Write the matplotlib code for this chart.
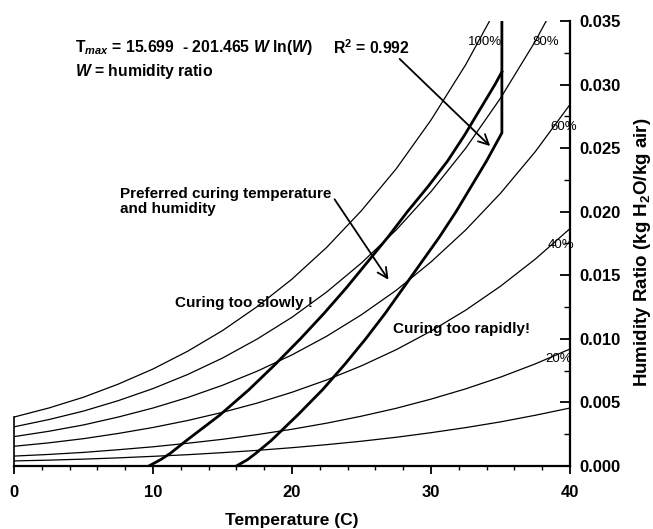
import numpy as np
import matplotlib
matplotlib.use("Agg")
import matplotlib.pyplot as plt
from matplotlib.ticker import MultipleLocator, FormatStrFormatter

plt.rcParams['font.family'] = ['Liberation Sans', 'DejaVu Sans']
plt.rcParams['font.weight'] = 'bold'
plt.rcParams['mathtext.fontset'] = 'custom'
plt.rcParams['mathtext.rm'] = 'Liberation Sans:bold'
plt.rcParams['mathtext.bf'] = 'Liberation Sans:bold'
plt.rcParams['mathtext.it'] = 'Liberation Sans:italic:bold'

# relative humidity curves, humidity ratio (kg/kg) vs dry bulb temperature (C)
temps = [0, 2.5, 5, 7.5, 10, 12.5, 15, 17.5, 20, 22.5, 25, 27.5, 30, 32.5, 35, 37.5, 40]
rh_100 = [0.00385, 0.00456, 0.00541, 0.00644, 0.00763, 0.00903, 0.01065, 0.01254, 0.01470,
          0.01720, 0.02009, 0.02338, 0.02721, 0.03157, 0.03658, 0.04232, 0.04887]
rh_80 = [0.00308, 0.00365, 0.00432, 0.00514, 0.00609, 0.00720, 0.00849, 0.00999, 0.01170,
         0.01369, 0.01597, 0.01857, 0.02158, 0.02500, 0.02893, 0.03340, 0.03849]
rh_60 = [0.00231, 0.00273, 0.00323, 0.00385, 0.00456, 0.00539, 0.00635, 0.00746, 0.00874,
         0.01021, 0.01190, 0.01382, 0.01605, 0.01857, 0.02145, 0.02472, 0.02843]
rh_40 = [0.00155, 0.00182, 0.00215, 0.00256, 0.00303, 0.00358, 0.00422, 0.00495, 0.00580,
         0.00677, 0.00788, 0.00915, 0.01061, 0.01226, 0.01414, 0.01627, 0.01867]
rh_20 = [0.00078, 0.00091, 0.00107, 0.00128, 0.00151, 0.00179, 0.00210, 0.00247, 0.00289,
         0.00337, 0.00392, 0.00454, 0.00526, 0.00607, 0.00699, 0.00803, 0.00920]
rh_10 = [0.00040, 0.00046, 0.00054, 0.00064, 0.00076, 0.00089, 0.00105, 0.00123, 0.00144,
         0.00168, 0.00195, 0.00226, 0.00262, 0.00302, 0.00347, 0.00399, 0.00456]
rh_curves = [rh_100, rh_80, rh_60, rh_40, rh_20, rh_10]

# lower (slow curing) limit
low_w = [0, 0.0005, 0.001, 0.002, 0.004, 0.006, 0.008, 0.010, 0.012, 0.014, 0.016,
         0.018, 0.020, 0.022, 0.024, 0.026, 0.028, 0.030, 0.031]
low_t = [9.7, 10.55, 11.25, 12.4, 14.8, 16.9, 18.8, 20.6, 22.3, 23.9, 25.4,
         26.9, 28.3, 29.8, 31.2, 32.4, 33.5, 34.6, 35.1]

# upper limit, Tmax fit then 35 C cap
high_w = [0, 0.0005, 0.001, 0.002, 0.004, 0.006, 0.008, 0.010, 0.012, 0.014, 0.016,
          0.018, 0.020, 0.022, 0.024, 0.0262, 0.035]
high_t = [16.0, 16.8, 17.4, 18.5, 20.4, 22.2, 23.8, 25.3, 26.7, 28.0, 29.3,
          30.6, 31.8, 32.9, 34.0, 35.1, 35.1]

fig = plt.figure(figsize=(6.53, 5.29), dpi=100)
ax = fig.add_axes([14/653, 1 - 466/529, 556/653, 445/529])

for w in rh_curves:
    ax.plot(temps, w, color='black', lw=0.9)
ax.plot(low_t, low_w, color='black', lw=2.0)
ax.plot(high_t, high_w, color='black', lw=2.0)

ax.set_xlim(0, 40)
ax.set_ylim(0, 0.035)

ax.spines['top'].set_visible(False)
ax.spines['left'].set_bounds(0, rh_100[0])
ax.spines['left'].set_linewidth(1.2)
ax.spines['right'].set_linewidth(1.6)
ax.spines['bottom'].set_linewidth(1.6)

ax.yaxis.tick_right()
ax.yaxis.set_label_position('right')
ax.xaxis.set_major_locator(MultipleLocator(10))
ax.xaxis.set_minor_locator(MultipleLocator(2))
ax.yaxis.set_major_locator(MultipleLocator(0.005))
ax.yaxis.set_minor_locator(MultipleLocator(0.0025))
ax.yaxis.set_major_formatter(FormatStrFormatter('%.3f'))
ax.tick_params(axis='x', which='major', direction='out', length=6, width=1.3, pad=8, labelsize=12)
ax.tick_params(axis='x', which='minor', direction='out', length=3, width=1.0)
ax.tick_params(axis='y', which='major', direction='in', length=7, width=1.3, pad=7, labelsize=12)
ax.tick_params(axis='y', which='minor', direction='in', length=4, width=1.0)

ax.set_xlabel('Temperature (C)', fontsize=12.5, fontweight='bold', labelpad=9)
ax.set_ylabel(r'Humidity Ratio (kg H$_2$O/kg air)', fontsize=13.5, fontweight='bold')
ax.yaxis.set_label_coords(1.112, 0.48)

# RH labels
rh_labels = ['100%', '80%', '60%', '40%', '20%']
rh_label_pos = [(32.66, 0.03335), (37.3, 0.03335), (38.56, 0.02666), (38.42, 0.01738), (38.2, 0.00842)]
for lab, (x, y) in zip(rh_labels, rh_label_pos):
    ax.text(x, y, lab, fontsize=9.5, fontweight='normal', va='center', ha='left')

ax.text(4.4, 0.03288, r'T$_{max}$ = 15.699  - 201.465 $W$ ln($W$)', fontsize=11.3, va='center', ha='left')
ax.text(22.95, 0.03288, r'R$^2$ = 0.992', fontsize=11.3, va='center', ha='left')
ax.text(4.4, 0.03103, r'$W$ = humidity ratio', fontsize=11.3, va='center', ha='left')
ax.text(7.6, 0.0208, 'Preferred curing temperature\nand humidity', fontsize=11,
        va='center', ha='left', linespacing=1.1)
ax.text(11.6, 0.01279, 'Curing too slowly !', fontsize=11, va='center', ha='left')
ax.text(27.3, 0.01077, 'Curing too rapidly!', fontsize=11, va='center', ha='left')

arrow = dict(arrowstyle='->', color='black', lw=1.3, mutation_scale=18)
ax.annotate('', xy=(34.4, 0.02501), xytext=(27.6, 0.03217), arrowprops=arrow)
ax.annotate('', xy=(27.05, 0.01447), xytext=(22.95, 0.02116), arrowprops=arrow)

fig.savefig('out.png', dpi=100)
